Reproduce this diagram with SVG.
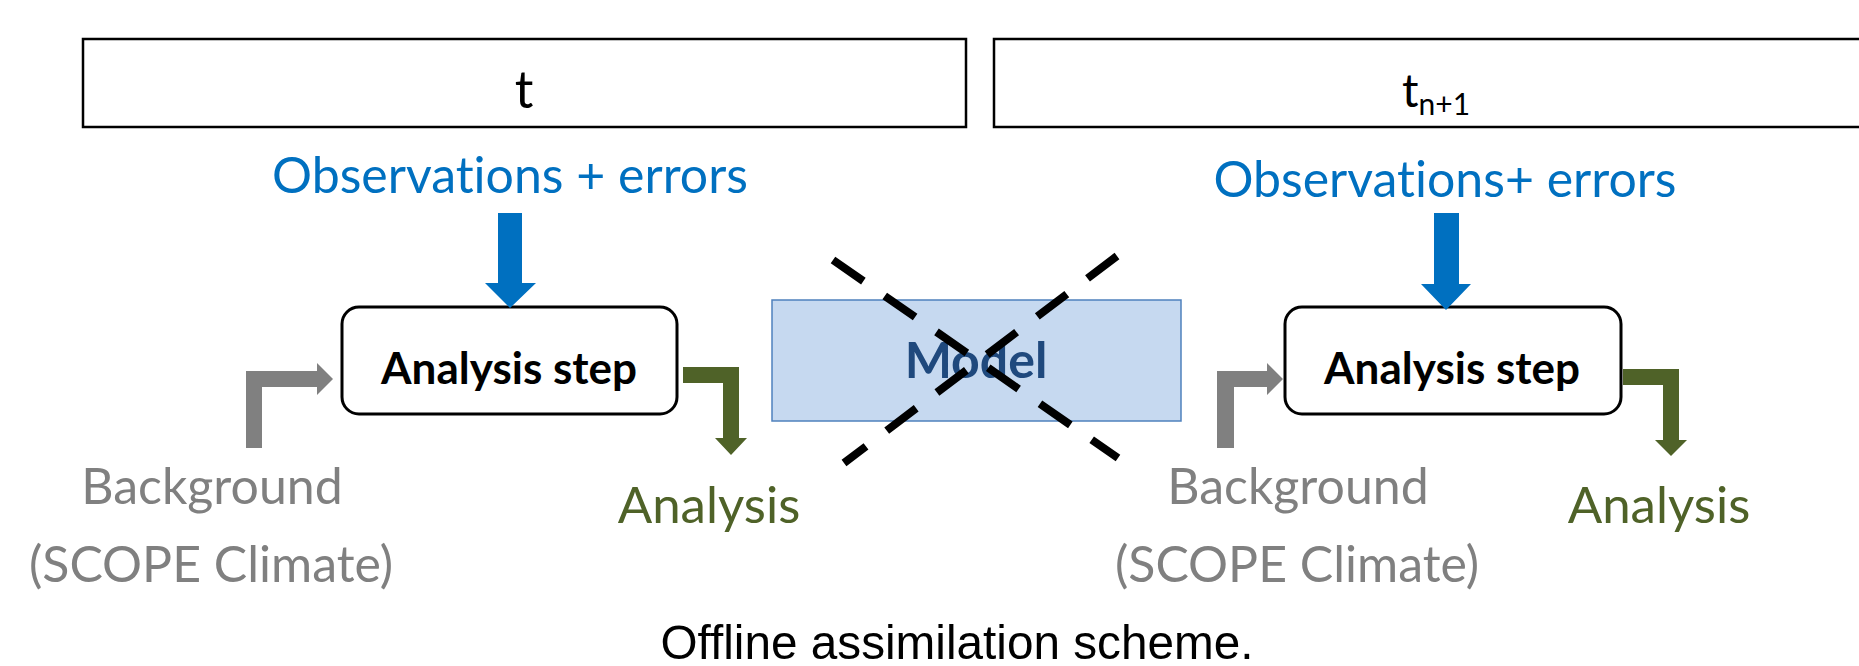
<svg xmlns="http://www.w3.org/2000/svg" width="1859" height="666" viewBox="0 0 1859 666">
<style>
.tbox{fill:#fff;stroke:#000;stroke-width:2.5}
.abox{fill:#fff;stroke:#000;stroke-width:3}
.lbl{font-family:Lato,"Liberation Sans",sans-serif;font-variant-ligatures:none;font-feature-settings:"liga" 0,"dlig" 0,"clig" 0}
.obs{fill:#0070C0;font-size:50px}
.bg{fill:#808080;font-size:50px}
.an{fill:#4F6228;font-size:51px}
.step{fill:#000;font-size:44px;font-weight:bold}
.blue{fill:#0070C0}
.gray{fill:#808080}
.green{fill:#4F6228}
.cross{stroke:#000;stroke-width:8;stroke-dasharray:37 26;fill:none}
</style>
<rect width="1859" height="666" fill="#fff"/>
<g id="time-t">
<rect class="tbox" x="83" y="39" width="883" height="88"/>
<text class="lbl" x="524" y="108" font-size="52" text-anchor="middle">t</text>
</g>
<g id="time-tn1">
<rect class="tbox" x="994" y="39" width="880" height="88"/>
<text class="lbl" x="1402" y="107" font-size="46">t<tspan font-size="30" dy="8">n+1</tspan></text>
</g>
<g id="obs-left">
<text class="lbl obs" x="510" y="193" text-anchor="middle">Observations + errors</text>
</g>
<g id="obs-right">
<text class="lbl obs" x="1445" y="197" text-anchor="middle">Observations+ errors</text>
</g>
<g id="analysis-step-left">
<rect class="abox" x="342" y="307" width="335" height="107" rx="17"/>
<text class="lbl step" x="509" y="384" text-anchor="middle">Analysis step</text>
</g>
<g id="analysis-step-right">
<rect class="abox" x="1285" y="307" width="336" height="107" rx="17"/>
<text class="lbl step" x="1452" y="384" text-anchor="middle">Analysis step</text>
</g>
<g id="model">
<rect x="772" y="300" width="409" height="121" fill="#C6D9F0" stroke="#4F81BD" stroke-width="1.5"/>
<text class="lbl" x="976" y="378" font-size="50" font-weight="bold" fill="#1F497D" text-anchor="middle">Model</text>
</g>
<g id="background-left">
<text class="lbl bg" x="212" y="504" text-anchor="middle">Background</text>
<text class="lbl bg" x="211" y="582" text-anchor="middle">(SCOPE Climate)</text>
</g>
<g id="background-right">
<text class="lbl bg" x="1298" y="504" text-anchor="middle">Background</text>
<text class="lbl bg" x="1297" y="582" text-anchor="middle">(SCOPE Climate)</text>
</g>
<g id="analysis-left">
<text class="lbl an" x="709" y="523" text-anchor="middle">Analysis</text>
</g>
<g id="analysis-right">
<text class="lbl an" x="1659" y="523" text-anchor="middle">Analysis</text>
</g>
<g id="connectors">
<polygon class="blue" points="498,213 522,213 522,283 536,283 510,308 485,283 498,283"/>
<polygon class="blue" points="1434,213 1459,213 1459,284 1471,284 1446,310 1421,284 1434,284"/>
<polygon class="gray" points="246,448 246,371 317,371 317,363 333,379 317,395 317,387 262,387 262,448"/>
<polygon class="gray" points="1217,448 1217,371 1267,371 1267,363 1283,379 1267,395 1267,387 1234,387 1234,448"/>
<polygon class="green" points="683,367 739,367 739,438 747,438 731,455 715,438 723,438 723,383 683,383"/>
<polygon class="green" points="1623,369 1679,369 1679,440 1687,440 1671,456 1655,440 1663,440 1663,385 1623,385"/>
<line class="cross" x1="833" y1="260" x2="1118" y2="458"/>
<line class="cross" x1="1117" y1="256" x2="844" y2="463"/>
</g>
<g id="caption">
<text x="957" y="659" font-family="'Liberation Sans',sans-serif" font-size="49" text-anchor="middle" textLength="593" lengthAdjust="spacingAndGlyphs">Offline assimilation scheme.</text>
</g>
</svg>
